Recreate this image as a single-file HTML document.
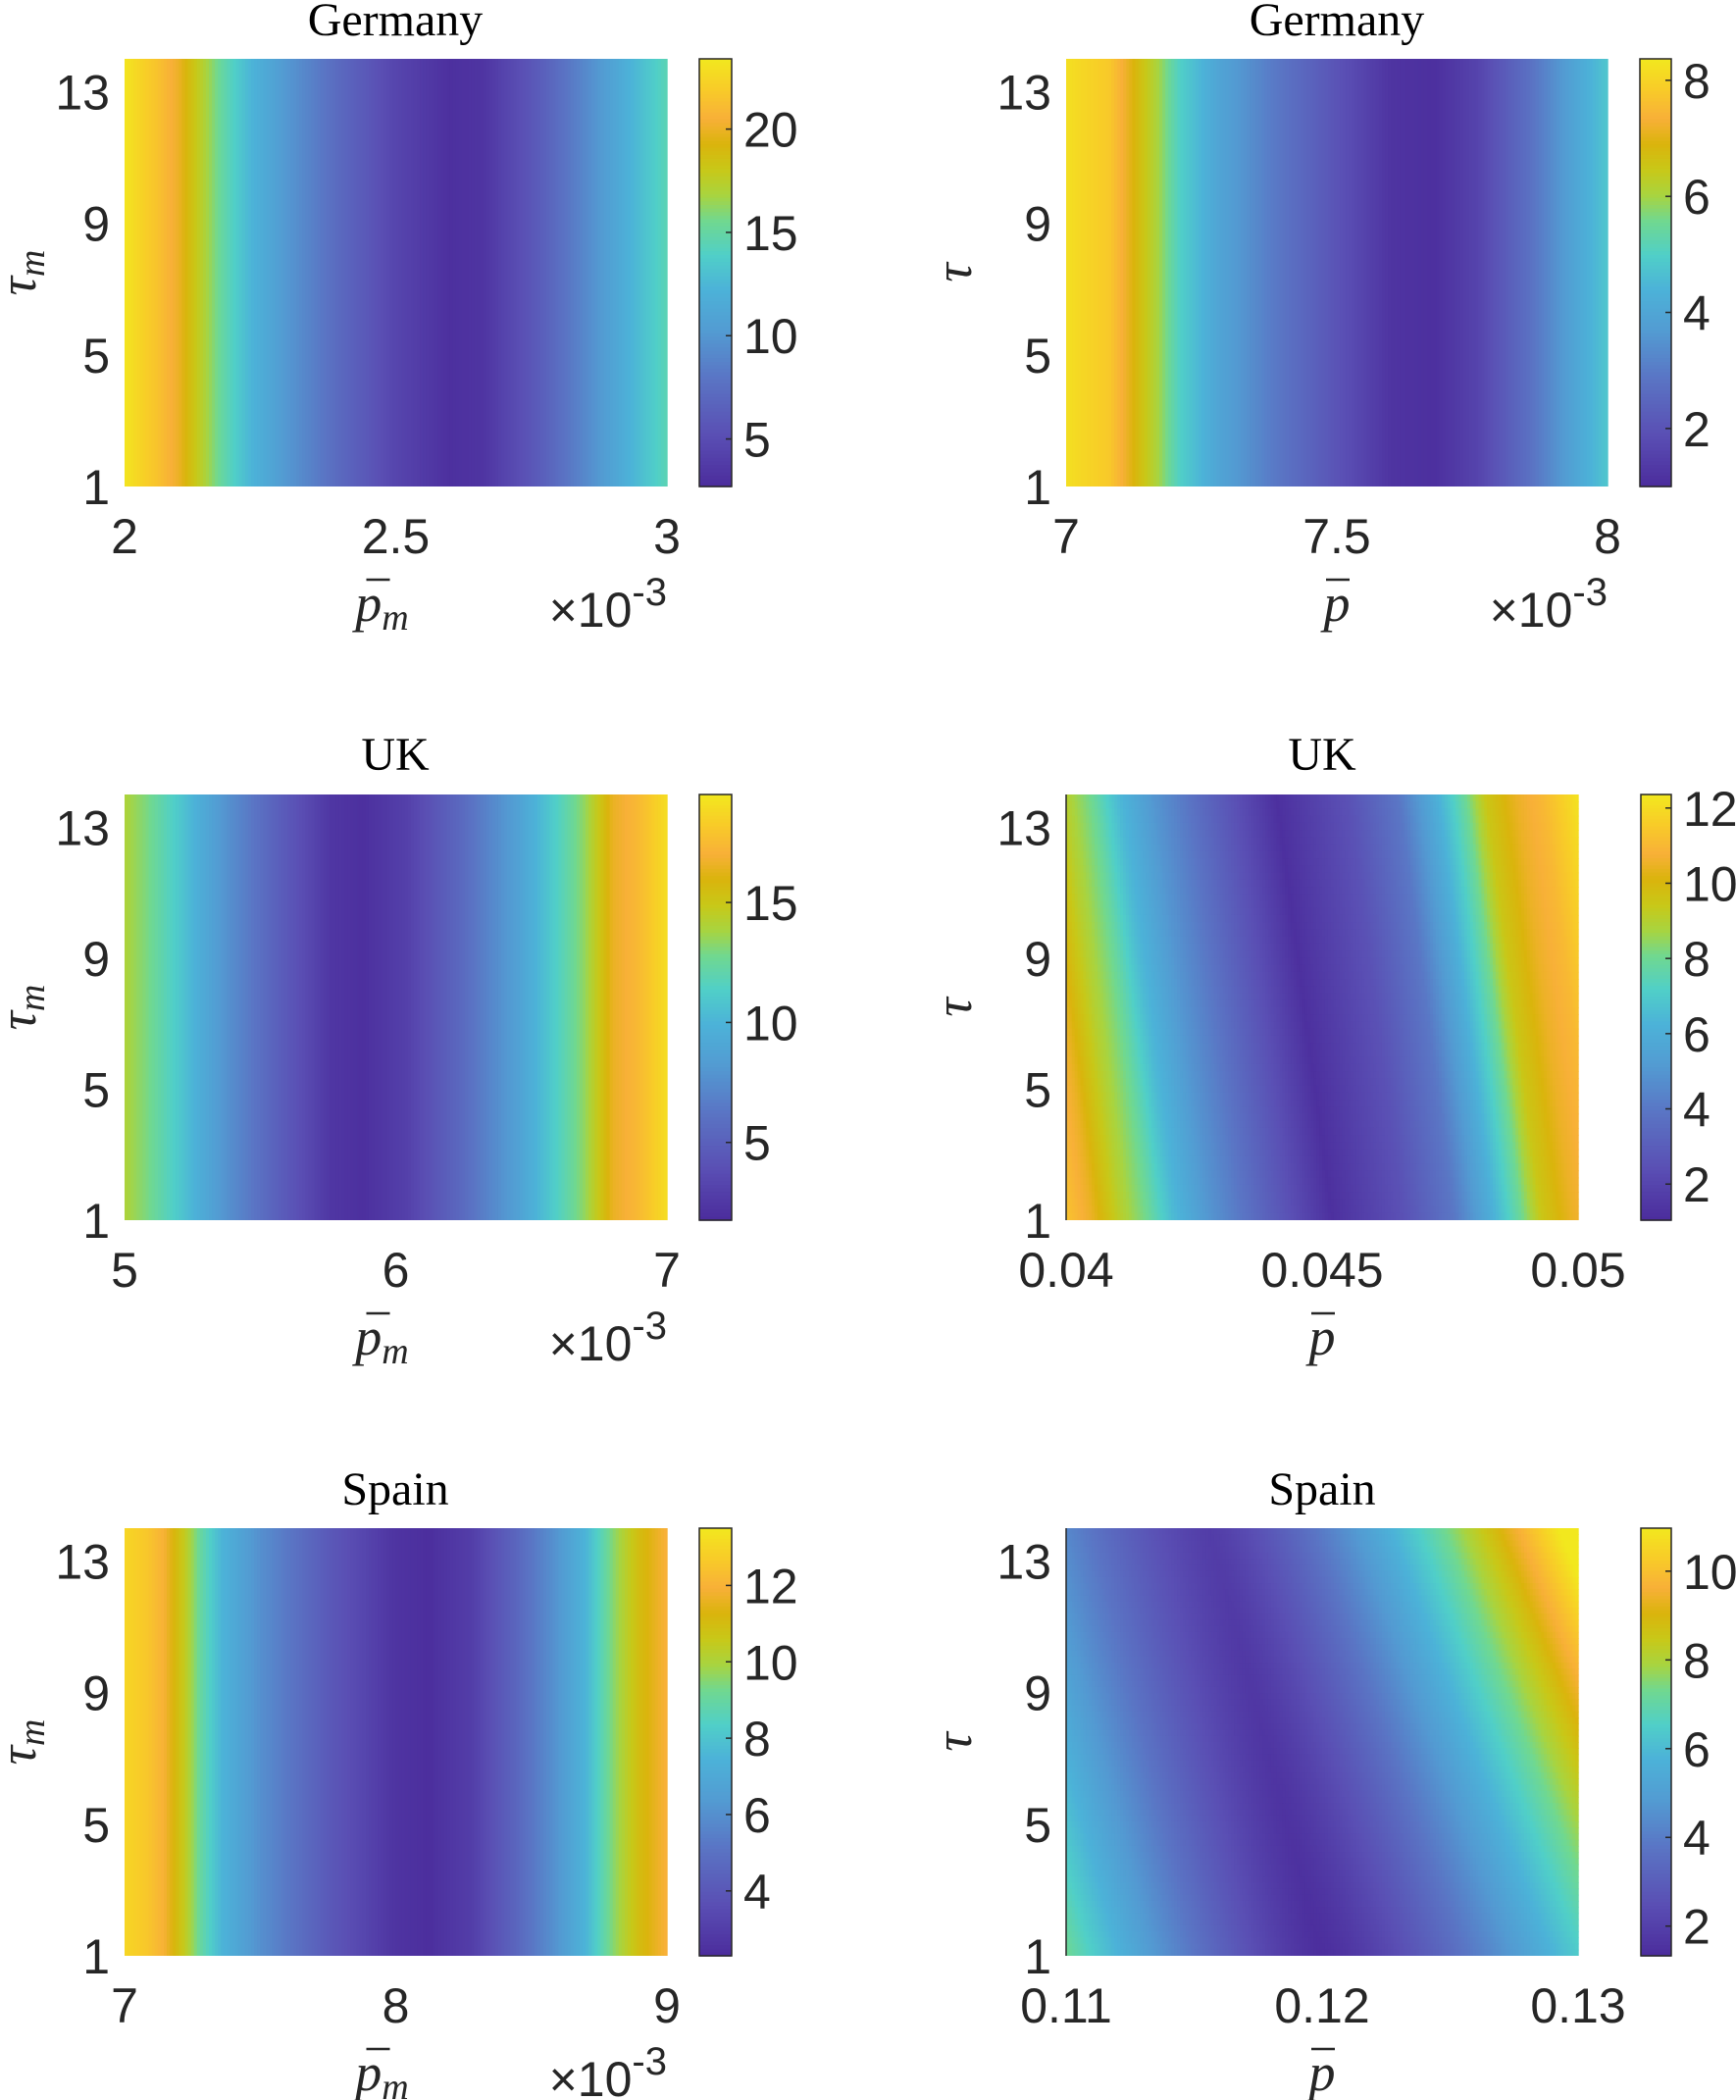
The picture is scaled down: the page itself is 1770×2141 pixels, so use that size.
<!DOCTYPE html>
<html><head><meta charset="utf-8"><style>
html,body{margin:0;padding:0;background:#fff;}
svg{display:block;}
.t{font-family:"Liberation Sans",sans-serif;font-size:50px;fill:#262626;}
.ti{font-family:"Liberation Serif",serif;font-size:48px;fill:#000;}
.lab{font-family:"Liberation Serif",serif;font-style:italic;font-size:54px;fill:#262626;}
</style></head><body>
<svg id="s" width="1770" height="2141" viewBox="0 0 1770 2141" xmlns="http://www.w3.org/2000/svg">
<g id="maps"></g>
<g id="txt">
<text class="ti" x="403" y="36" text-anchor="middle">Germany</text>
<text class="ti" x="1363" y="36" text-anchor="middle">Germany</text>
<text class="ti" x="403" y="785" text-anchor="middle">UK</text>
<text class="ti" x="1348" y="785" text-anchor="middle">UK</text>
<text class="ti" x="403" y="1534" text-anchor="middle">Spain</text>
<text class="ti" x="1348" y="1534" text-anchor="middle">Spain</text>
</g>
</svg>
<script>
(function(){
var NS="http://www.w3.org/2000/svg";
var maps=document.getElementById('maps'), txt=document.getElementById('txt');
var stops=[[0,'#4b2c9c'],[0.12,'#5a4fb4'],[0.25,'#5a74c4'],[0.36,'#539ad2'],[0.46,'#4cb2d8'],[0.54,'#50cfc8'],[0.62,'#70d890'],[0.68,'#a8d440'],[0.74,'#c8c818'],[0.80,'#dab40c'],[0.86,'#f8b038'],[0.93,'#f8cc28'],[1,'#f2e81e']];
function hx(h){return [parseInt(h.substr(1,2),16),parseInt(h.substr(3,2),16),parseInt(h.substr(5,2),16)];}
stops=stops.map(function(s){return [s[0],hx(s[1])];});
function cmap(t){t=Math.max(0,Math.min(1,t));for(var i=1;i<stops.length;i++){if(t<=stops[i][0]){var a=stops[i-1],b=stops[i],u=(t-a[0])/(b[0]-a[0]);var c=[0,1,2].map(function(k){return Math.round(a[1][k]+(b[1][k]-a[1][k])*u);});return 'rgb('+c.join(',')+')';}}return 'rgb(242,232,30)';}
function interp(k,f){if(f<=k[0][0])return k[0][1];for(var i=1;i<k.length;i++){if(f<=k[i][0]){var u=(f-k[i-1][0])/(k[i][0]-k[i-1][0]);return k[i-1][1]+(k[i][1]-k[i-1][1])*u;}}return k[k.length-1][1];}
function prof(k,s){return function(f,g){return interp(k,f-s*g);};}
function el(n,a,p){var e=document.createElementNS(NS,n);for(var k in a)e.setAttribute(k,a[k]);(p||maps).appendChild(e);return e;}
function tx(x,y,s,anchor,cls,p){var e=el('text',{x:x,y:y,'text-anchor':anchor,'class':cls||'t'},p||txt);e.textContent=s;return e;}
var r3r=function(f,g){var c=0.28+0.22*g,u=f-c,vmin=1.9-0.5*g;if(u<0)return vmin+(12.5+2*g)*Math.pow(-u,1.3);return vmin+(15-2.6*g)*Math.pow(u,1.31);};
var P=[
{x:127,w:553,y:60,h:436,cbx:713,cbw:33,vmin:2.7,vmax:23.4,cbt:[5,10,15,20],xt:['2','2.5','3'],left:true,rows:1,
 fn:prof([[0,23.2],[0.06,21.5],[0.1,20],[0.14,17.5],[0.18,15],[0.23,12.5],[0.3,10],[0.4,7],[0.5,4.5],[0.6,3],[0.66,3.3],[0.76,6],[0.86,9.5],[0.94,12.5],[1,14.5]],0)},
{x:1087,w:552,y:60,h:436,cbx:1672,cbw:32,vmin:1.0,vmax:8.37,cbt:[2,4,6,8],xt:['7','7.5','8'],left:false,rows:1,
 fn:prof([[0,8.2],[0.08,7.8],[0.12,7],[0.17,6],[0.21,5],[0.28,4],[0.38,3],[0.5,2],[0.6,1.2],[0.68,1.1],[0.76,1.6],[0.86,2.8],[0.94,4],[1,4.8]],0)},
{x:127,w:553,y:810,h:434,cbx:713,cbw:33,vmin:1.76,vmax:19.5,cbt:[5,10,15],xt:['5','6','7'],left:true,rows:1,
 fn:prof([[0,14],[0.04,13],[0.1,11],[0.18,8],[0.28,5],[0.38,2.4],[0.44,2],[0.52,3],[0.62,5.5],[0.72,8.5],[0.8,11.5],[0.85,13.5],[0.9,16.5],[0.95,17.5],[1,19]],0)},
{x:1087,w:522,y:810,h:434,cbx:1673,cbw:31,vmin:1.04,vmax:12.36,cbt:[2,4,6,8,10,12],xt:['0.04','0.045','0.05'],left:false,rows:60,
 fn:prof([[-0.12,11.5],[-0.06,10.5],[0,9],[0.05,8],[0.1,6.5],[0.17,5],[0.28,3.2],[0.41,1.2],[0.55,2.5],[0.65,4],[0.72,6],[0.78,8],[0.82,9.5],[0.88,10.5],[0.93,11],[1,12.2]],0.11)},
{x:127,w:553,y:1558,h:436,cbx:713,cbw:33,vmin:2.3,vmax:13.5,cbt:[4,6,8,10,12],xt:['7','8','9'],left:true,rows:1,
 fn:prof([[0,13],[0.04,12.6],[0.07,12],[0.11,10.5],[0.14,9],[0.18,7.5],[0.25,6],[0.38,4],[0.5,2.6],[0.56,2.4],[0.64,3],[0.72,4.5],[0.79,6],[0.85,7.5],[0.9,9.5],[0.95,11],[1,12]],0)},
{x:1087,w:522,y:1558,h:436,cbx:1673,cbw:31,vmin:1.33,vmax:10.97,cbt:[2,4,6,8,10],xt:['0.11','0.12','0.13'],left:false,rows:70,fn:r3r}
];
P.forEach(function(p){
  var cols=180,cw=p.w/cols,rh=p.h/p.rows;
  for(var j=0;j<p.rows;j++){for(var i=0;i<cols;i++){
    var f=(i+0.5)/cols,g=(j+0.5)/p.rows;var v=p.fn(f,g);
    el('rect',{x:(p.x+i*cw).toFixed(2),y:(p.y+j*rh).toFixed(2),width:(cw+0.7).toFixed(2),height:(Math.min(rh+0.7,p.y+p.h-(p.y+j*rh))).toFixed(2),fill:cmap((v-p.vmin)/(p.vmax-p.vmin))});
  }}
  var n=120,ch=p.h/n;
  for(var k=0;k<n;k++){el('rect',{x:p.cbx,y:(p.y+k*ch).toFixed(2),width:p.cbw,height:(ch+0.7).toFixed(2),fill:cmap(1-(k+0.5)/n)});}
  el('rect',{x:p.cbx,y:p.y,width:p.cbw,height:p.h,fill:'none',stroke:'#262626','stroke-width':1.5});
  p.cbt.forEach(function(t){var yy=p.y+p.h-(t-p.vmin)/(p.vmax-p.vmin)*p.h;
    el('line',{x1:p.cbx+p.cbw-6,x2:p.cbx+p.cbw,y1:yy,y2:yy,stroke:'#262626','stroke-width':1.5});
    tx(p.cbx+p.cbw+12,yy+18,String(t),'start');});
  [1,5,9,13].forEach(function(t){var yy=p.y+p.h-(t-1)/13*p.h;tx(p.x-15,yy+18,String(t),'end');});
  p.xt.forEach(function(s,i){tx(p.x+p.w*i/2,p.y+p.h+68,s,'middle');});
  var ly=p.y+p.h/2, lx=p.left?36:990;
  var g=el('g',{transform:'translate('+lx+','+ly+') rotate(-90)'},txt);
  var yl=el('text',{x:0,y:0,'text-anchor':'middle','class':'lab'},g);
  yl.appendChild(document.createTextNode('τ'));
  if(p.left){var ts=el('tspan',{'font-size':'38',dy:'9'},yl);ts.textContent='m';}
  var cx=p.x+p.w/2, by=p.y+p.h+137;
  var xl=el('text',{x:cx-(p.left?14:0),y:by,'text-anchor':'middle','class':'lab'},txt);
  xl.appendChild(document.createTextNode('p'));
  if(p.left){var ts2=el('tspan',{'font-size':'38',dy:'9'},xl);ts2.textContent='m';}
  var bx=p.left?cx-30:cx-11;
  el('line',{x1:bx,x2:bx+24,y1:by-42,y2:by-42,stroke:'#262626','stroke-width':2.5},txt);
  if(p.left||p===P[1]){
    var ex=el('text',{x:p.x+p.w,y:by+6,'text-anchor':'end','class':'t'},txt);
    ex.appendChild(document.createTextNode('×10'));
    var sp=el('tspan',{dy:'-22','font-size':'40'},ex);sp.textContent='-3';
  }
  if(!p.left && p.rows>1){el('line',{x1:p.x,x2:p.x,y1:p.y,y2:p.y+p.h,stroke:'#262626','stroke-width':1.5});}
});
})();
</script>
</body></html>
